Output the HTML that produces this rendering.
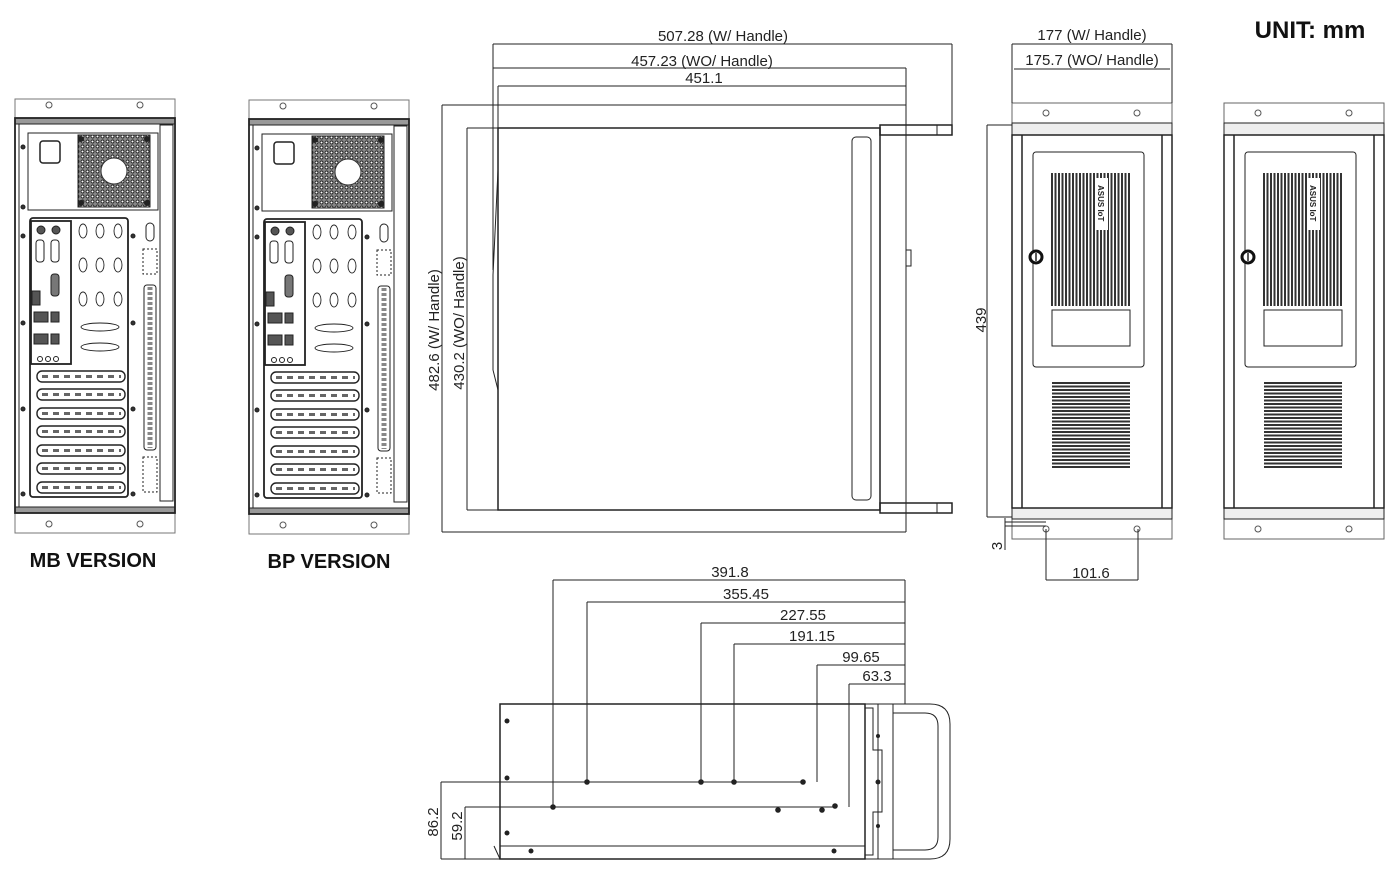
<!DOCTYPE html>
<html><head><meta charset="utf-8"><style>
html,body{margin:0;padding:0;background:#fff;}
svg{display:block;font-family:"Liberation Sans",Arial,sans-serif;}
</style></head><body>
<svg width="1394" height="879" viewBox="0 0 1394 879" xmlns="http://www.w3.org/2000/svg">
<defs>
<pattern id="hatch" width="5" height="5" patternUnits="userSpaceOnUse"><rect width="5" height="5" fill="#888"/><circle cx="2.5" cy="2.5" r="1.5" fill="#fff" stroke="#222" stroke-width="0.9"/></pattern>
<g id="rear" stroke="#222" fill="none" stroke-width="1">
  <rect x="0" y="0" width="160" height="434" stroke="#777"/>
  <circle cx="34" cy="6" r="3" stroke="#555"/><circle cx="125" cy="6" r="3" stroke="#555"/>
  <circle cx="34" cy="425" r="3" stroke="#555"/><circle cx="125" cy="425" r="3" stroke="#555"/>
  <rect x="0" y="19" width="160" height="6" fill="#999"/>
  <rect x="0" y="408" width="160" height="6" fill="#999"/>
  <rect x="0" y="19" width="160" height="395" stroke-width="1.8"/>
  <line x1="4" y1="25" x2="4" y2="408"/>
  <rect x="145" y="26" width="13" height="376"/>
  <rect x="13" y="34" width="130" height="77"/>
  <rect x="25" y="42" width="20" height="22" rx="3" stroke-width="1.5"/>
  <rect x="63" y="36" width="72" height="72" fill="url(#hatch)"/>
  <circle cx="99" cy="72" r="13" fill="#fff" stroke="#333"/>
  <circle cx="66" cy="40" r="2.5" fill="#222"/><circle cx="132" cy="40" r="2.5" fill="#222"/>
  <circle cx="66" cy="104" r="2.5" fill="#222"/><circle cx="132" cy="104" r="2.5" fill="#222"/>
  <rect x="15" y="119" width="98" height="279" rx="3" stroke-width="1.8"/>
  <rect x="16" y="122" width="40" height="143" stroke-width="1.8"/>
  <circle cx="26" cy="131" r="4" fill="#555"/><circle cx="41" cy="131" r="4" fill="#555"/>
  <rect x="21" y="141" width="8" height="22" rx="3"/><rect x="36" y="141" width="8" height="22" rx="3"/>
  <rect x="36" y="175" width="8" height="22" rx="3" fill="#777"/>
  <rect x="17" y="192" width="8" height="14" fill="#555"/>
  <rect x="19" y="213" width="14" height="10" fill="#555"/><rect x="36" y="213" width="8" height="10" fill="#555"/>
  <rect x="19" y="235" width="14" height="10" fill="#555"/><rect x="36" y="235" width="8" height="10" fill="#555"/>
  <g stroke-width="0.9">
   <ellipse cx="68" cy="132" rx="4" ry="7"/><ellipse cx="85" cy="132" rx="4" ry="7"/><ellipse cx="103" cy="132" rx="4" ry="7"/>
   <ellipse cx="68" cy="166" rx="4" ry="7"/><ellipse cx="85" cy="166" rx="4" ry="7"/><ellipse cx="103" cy="166" rx="4" ry="7"/>
   <ellipse cx="68" cy="200" rx="4" ry="7"/><ellipse cx="85" cy="200" rx="4" ry="7"/><ellipse cx="103" cy="200" rx="4" ry="7"/>
   <ellipse cx="85" cy="228" rx="19" ry="4"/><ellipse cx="85" cy="248" rx="19" ry="4"/>
  </g>
  <circle cx="25" cy="260" r="2.5"/><circle cx="33" cy="260" r="2.5"/><circle cx="41" cy="260" r="2.5"/>
  <g stroke-width="1.4">
   <rect x="22" y="272" width="88" height="11" rx="5"/>
   <rect x="22" y="290" width="88" height="11" rx="5"/>
   <rect x="22" y="309" width="88" height="11" rx="5"/>
   <rect x="22" y="327" width="88" height="11" rx="5"/>
   <rect x="22" y="346" width="88" height="11" rx="5"/>
   <rect x="22" y="364" width="88" height="11" rx="5"/>
   <rect x="22" y="383" width="88" height="11" rx="5"/>
  </g>
  <g stroke="#666" stroke-width="3" stroke-dasharray="6,5">
   <line x1="27" y1="277.5" x2="106" y2="277.5"/><line x1="27" y1="295.5" x2="106" y2="295.5"/>
   <line x1="27" y1="314.5" x2="106" y2="314.5"/><line x1="27" y1="332.5" x2="106" y2="332.5"/>
   <line x1="27" y1="351.5" x2="106" y2="351.5"/><line x1="27" y1="369.5" x2="106" y2="369.5"/>
   <line x1="27" y1="388.5" x2="106" y2="388.5"/>
  </g>
  <rect x="131" y="124" width="8" height="18" rx="4"/>
  <rect x="128" y="150" width="14" height="25" stroke-dasharray="2,2"/>
  <rect x="129" y="186" width="12" height="165" rx="3"/>
  <line x1="135" y1="188" x2="135" y2="349" stroke-dasharray="3,2" stroke-width="5" stroke="#888"/>
  <rect x="128" y="358" width="14" height="35" stroke-dasharray="2,2"/>
  <circle cx="8" cy="48" r="2" fill="#333"/><circle cx="8" cy="108" r="2" fill="#333"/><circle cx="8" cy="137" r="2" fill="#333"/>
  <circle cx="8" cy="224" r="2" fill="#333"/><circle cx="8" cy="310" r="2" fill="#333"/><circle cx="8" cy="395" r="2" fill="#333"/>
  <circle cx="118" cy="137" r="2" fill="#333"/><circle cx="118" cy="224" r="2" fill="#333"/><circle cx="118" cy="310" r="2" fill="#333"/><circle cx="118" cy="395" r="2" fill="#333"/>
</g>
<g id="front" stroke="#222" fill="none" stroke-width="1">
  <rect x="0" y="0" width="160" height="436" stroke="#666"/>
  <circle cx="34" cy="10" r="3" stroke="#555"/><circle cx="125" cy="10" r="3" stroke="#555"/>
  <circle cx="34" cy="426" r="3" stroke="#555"/><circle cx="125" cy="426" r="3" stroke="#555"/>
  <rect x="0" y="20" width="160" height="12" fill="#eee"/>
  <rect x="0" y="405" width="160" height="11" fill="#eee"/>
  <rect x="0" y="32" width="160" height="373" stroke-width="1.5"/>
  <line x1="10" y1="32" x2="10" y2="405" stroke-width="1.5"/>
  <line x1="150" y1="32" x2="150" y2="405" stroke-width="1.5"/>
  <rect x="21" y="49" width="111" height="215" rx="3"/>
  <g stroke="#333" stroke-width="2">
   <path d="M40 70V203M43.5 70V203M47 70V203M50.5 70V203M54 70V203M57.5 70V203M61 70V203M64.5 70V203M68 70V203M71.5 70V203M75 70V203M78.5 70V203M82 70V203M85.5 70V203M89 70V203M92.5 70V203M96 70V203M99.5 70V203M103 70V203M106.5 70V203M110 70V203M113.5 70V203M117 70V203"/>
  </g>
  <rect x="84" y="75" width="12" height="52" fill="#fff" stroke="none"/>
  <text x="0" y="0" transform="translate(86,82) rotate(90)" font-size="8" font-weight="bold" fill="#222" stroke="none">ASUS IoT</text>
  <rect x="40" y="207" width="78" height="36" fill="#fff"/>
  <circle cx="24" cy="154" r="6" fill="#fff" stroke="#111" stroke-width="3"/>
  <line x1="24" y1="150" x2="24" y2="158" stroke-width="1.5"/>
  <g stroke="#333" stroke-width="2">
   <path d="M40 280H118M40 283.5H118M40 287H118M40 290.5H118M40 294H118M40 297.5H118M40 301H118M40 304.5H118M40 308H118M40 311.5H118M40 315H118M40 318.5H118M40 322H118M40 325.5H118M40 329H118M40 332.5H118M40 336H118M40 339.5H118M40 343H118M40 346.5H118M40 350H118M40 353.5H118M40 357H118M40 360.5H118M40 364H118"/>
  </g>
</g>
</defs>

<use href="#rear" x="15" y="99"/>
<use href="#rear" x="249" y="100"/>
<text x="93" y="567" font-size="20" font-weight="bold" text-anchor="middle" fill="#111">MB VERSION</text>
<text x="329" y="568" font-size="20" font-weight="bold" text-anchor="middle" fill="#111">BP VERSION</text>

<!-- top view -->
<g stroke="#222" fill="none" stroke-width="1">
  <line x1="493" y1="44" x2="952" y2="44"/><line x1="952" y1="44" x2="952" y2="135"/>
  <line x1="493" y1="68" x2="906" y2="68"/>
  <line x1="498" y1="86" x2="906" y2="86"/>
  <line x1="493" y1="44" x2="493" y2="270"/>
  <line x1="498" y1="86" x2="498" y2="130"/>
  <line x1="906" y1="68" x2="906" y2="532"/>
  <line x1="442" y1="105" x2="906" y2="105"/><line x1="442" y1="105" x2="442" y2="532"/><line x1="442" y1="532" x2="906" y2="532"/>
  <line x1="467" y1="128" x2="498" y2="128"/><line x1="467" y1="128" x2="467" y2="510"/><line x1="467" y1="510" x2="498" y2="510"/>
  <rect x="498" y="128" width="382" height="382" stroke-width="1.5"/>
  <line x1="880" y1="128" x2="880" y2="510"/>
  <rect x="880" y="125" width="72" height="10" stroke-width="1.5"/><line x1="937" y1="125" x2="937" y2="135"/>
  <rect x="880" y="503" width="72" height="10" stroke-width="1.5"/><line x1="937" y1="503" x2="937" y2="513"/>
  <rect x="852" y="137" width="19" height="363" rx="4"/>
  <rect x="906" y="250" width="5" height="16"/>
  <path d="M498 170 L493 275 L493 370 L498 390"/>
</g>
<text x="723" y="41" font-size="15" text-anchor="middle" fill="#222">507.28 (W/ Handle)</text>
<text x="702" y="66" font-size="15" text-anchor="middle" fill="#222">457.23 (WO/ Handle)</text>
<text x="704" y="83" font-size="15" text-anchor="middle" fill="#222">451.1</text>
<text transform="translate(439,330) rotate(-90)" font-size="15" text-anchor="middle" fill="#222">482.6 (W/ Handle)</text>
<text transform="translate(464,323) rotate(-90)" font-size="15" text-anchor="middle" fill="#222">430.2 (WO/ Handle)</text>

<!-- front views -->
<use href="#front" x="1012" y="103"/>
<use href="#front" x="1224" y="103"/>
<g stroke="#222" fill="none" stroke-width="1">
  <line x1="1012" y1="44" x2="1172" y2="44"/><line x1="1012" y1="44" x2="1012" y2="103"/><line x1="1172" y1="44" x2="1172" y2="103"/>
  <line x1="1014" y1="69" x2="1170" y2="69"/>
  <line x1="987" y1="125" x2="1012" y2="125"/><line x1="987" y1="125" x2="987" y2="517"/><line x1="987" y1="517" x2="1012" y2="517"/>
  <line x1="1005" y1="522" x2="1046" y2="522"/><line x1="1005" y1="526" x2="1046" y2="526"/><line x1="1005" y1="518" x2="1005" y2="550"/>
  <line x1="1046" y1="529" x2="1046" y2="580"/><line x1="1138" y1="529" x2="1138" y2="580"/><line x1="1046" y1="580" x2="1138" y2="580"/>
</g>
<text x="1092" y="40" font-size="15" text-anchor="middle" fill="#222">177 (W/ Handle)</text>
<text x="1092" y="65" font-size="15" text-anchor="middle" fill="#222">175.7 (WO/ Handle)</text>
<text transform="translate(986,320) rotate(-90)" font-size="15" text-anchor="middle" fill="#222">439</text>
<text transform="translate(1002,546) rotate(-90)" font-size="15" text-anchor="middle" fill="#222">3</text>
<text x="1091" y="578" font-size="15" text-anchor="middle" fill="#222">101.6</text>
<text x="1310" y="38" font-size="24" font-weight="bold" text-anchor="middle" fill="#111">UNIT: mm</text>

<!-- side view -->
<g stroke="#222" fill="none" stroke-width="1">
  <line x1="553" y1="580" x2="905" y2="580"/>
  <line x1="587" y1="602" x2="905" y2="602"/>
  <line x1="701" y1="623" x2="905" y2="623"/>
  <line x1="734" y1="644" x2="905" y2="644"/>
  <line x1="817" y1="665" x2="905" y2="665"/>
  <line x1="849" y1="684" x2="905" y2="684"/>
  <line x1="905" y1="580" x2="905" y2="704"/>
  <line x1="553" y1="580" x2="553" y2="807"/>
  <line x1="587" y1="602" x2="587" y2="782"/>
  <line x1="701" y1="623" x2="701" y2="782"/>
  <line x1="734" y1="644" x2="734" y2="782"/>
  <line x1="817" y1="665" x2="817" y2="782"/>
  <line x1="849" y1="684" x2="849" y2="807"/>
  <line x1="441" y1="782" x2="803" y2="782"/><line x1="441" y1="782" x2="441" y2="859"/>
  <line x1="465" y1="807" x2="835" y2="807"/><line x1="465" y1="807" x2="465" y2="859"/>
  <line x1="441" y1="859" x2="500" y2="859"/>
  <rect x="500" y="704" width="365" height="155" stroke-width="1.5"/>
  <line x1="500" y1="846" x2="865" y2="846"/>
  <path d="M494 846 L500 859" />
  <path d="M865 704 L878 704 L878 859 L865 859"/>
  <path d="M865 708 L873 708 L873 750 L882 750 L882 812 L873 812 L873 855 L865 855"/>
  <path d="M878 704 L930 704 Q950 704 950 724 L950 839 Q950 859 930 859 L878 859"/>
  <path d="M893 713 L925 713 Q938 713 938 726 L938 837 Q938 850 925 850 L893 850 Z"/>
  <line x1="893" y1="704" x2="893" y2="859"/>
</g>
<g fill="#222">
  <circle cx="507" cy="721" r="2.5"/><circle cx="507" cy="778" r="2.5"/><circle cx="507" cy="833" r="2.5"/>
  <circle cx="531" cy="851" r="2.5"/><circle cx="834" cy="851" r="2.5"/>
  <circle cx="587" cy="782" r="2.8"/><circle cx="701" cy="782" r="2.8"/><circle cx="734" cy="782" r="2.8"/><circle cx="803" cy="782" r="2.8"/>
  <circle cx="553" cy="807" r="2.8"/><circle cx="835" cy="806" r="2.8"/>
  <circle cx="778" cy="810" r="2.8"/><circle cx="822" cy="810" r="2.8"/>
  <circle cx="878" cy="736" r="2"/><circle cx="878" cy="782" r="2.5"/><circle cx="878" cy="826" r="2"/>
</g>
<text x="730" y="577" font-size="15" text-anchor="middle" fill="#222">391.8</text>
<text x="746" y="599" font-size="15" text-anchor="middle" fill="#222">355.45</text>
<text x="803" y="620" font-size="15" text-anchor="middle" fill="#222">227.55</text>
<text x="812" y="641" font-size="15" text-anchor="middle" fill="#222">191.15</text>
<text x="861" y="662" font-size="15" text-anchor="middle" fill="#222">99.65</text>
<text x="877" y="681" font-size="15" text-anchor="middle" fill="#222">63.3</text>
<text transform="translate(438,822) rotate(-90)" font-size="15" text-anchor="middle" fill="#222">86.2</text>
<text transform="translate(462,826) rotate(-90)" font-size="15" text-anchor="middle" fill="#222">59.2</text>
</svg>
</body></html>
